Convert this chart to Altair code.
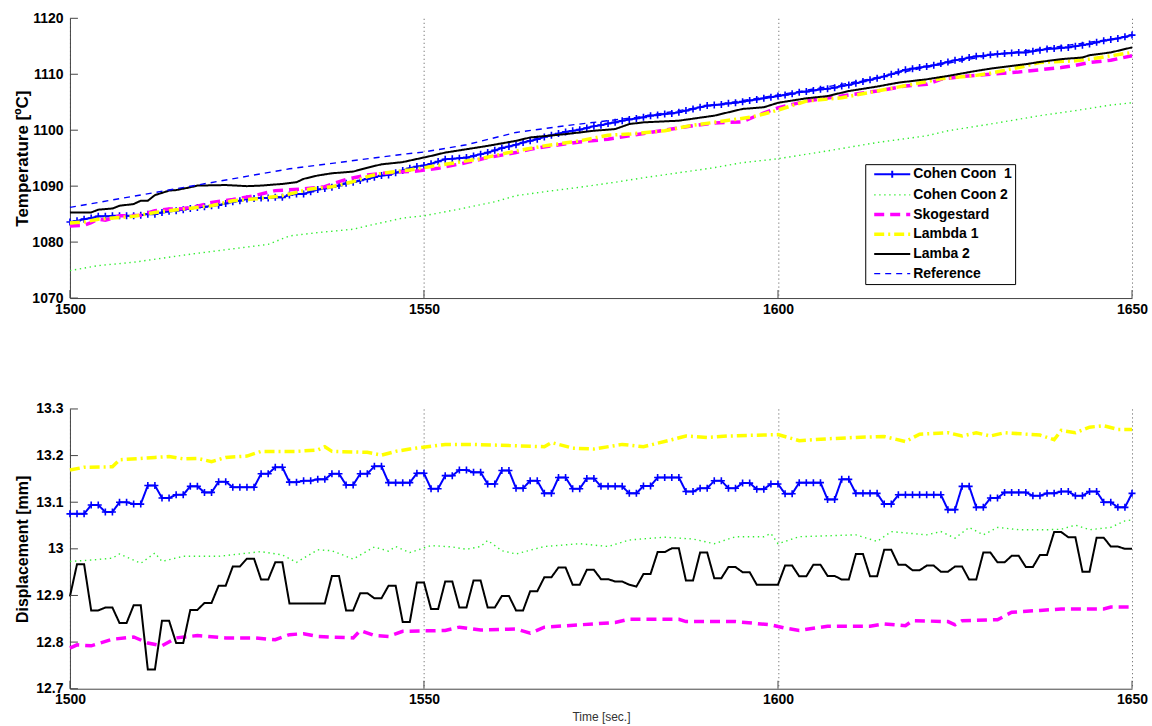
import json
import altair as alt
import pandas as pd

FONT = "Liberation Sans"

# ---------------- series / style definitions ----------------
SERIES = ["Cohen Coon \u00a01", "Cohen Coon 2", "Skogestard", "Lambda 1", "Lamba 2", "Reference"]
COLORS = ["#0000ff", "#33ee33", "#ff00ff", "#ffff00", "#000000", "#0000ff"]
DASHES = [[1, 0], [1.4, 3.6], [10, 6], [10, 4, 2, 4], [1, 0], [6, 5]]
WIDTHS = [2.0, 1.4, 3.5, 3.5, 2.0, 1.4]

X_TICKS = [1500, 1550, 1600, 1650]
TEMP_TICKS = [1070, 1080, 1090, 1100, 1110, 1120]
DISP_TICKS = [12.7, 12.8, 12.9, 13.0, 13.1, 13.2, 13.3]

TIME_1S = list(range(1500, 1651))

# ---------------- Temperature panel ----------------
TEMP_CC1 = [
    1083.6, 1083.8, 1084.1, 1084.3, 1084.6, 1084.6, 1084.7, 1084.7, 1084.7, 1084.7,
    1084.8, 1085.0, 1085.0, 1085.3, 1085.5, 1085.6, 1085.8, 1086.0, 1086.2, 1086.3,
    1086.5, 1086.6, 1086.9, 1087.2, 1087.4, 1087.7, 1087.8, 1087.9, 1087.9, 1088.0,
    1088.0, 1088.4, 1088.6, 1088.6, 1089.0, 1089.4, 1089.6, 1089.8, 1090.1, 1090.5,
    1090.7, 1091.0, 1091.3, 1091.6, 1091.9, 1092.0, 1092.4, 1092.8, 1093.2, 1093.5,
    1093.7, 1094.0, 1094.4, 1094.8, 1094.9, 1095.0, 1095.1, 1095.4, 1095.7, 1096.0,
    1096.4, 1096.8, 1097.1, 1097.4, 1097.8, 1098.1, 1098.4, 1098.8, 1099.1, 1099.4,
    1099.7, 1099.9, 1100.1, 1100.4, 1100.7, 1100.9, 1101.2, 1101.4, 1101.7, 1101.9,
    1102.1, 1102.3, 1102.6, 1102.7, 1102.9, 1103.0, 1103.2, 1103.5, 1103.8, 1104.1,
    1104.4, 1104.5, 1104.6, 1104.8, 1104.9, 1105.1, 1105.3, 1105.5, 1105.7, 1105.9,
    1106.1, 1106.3, 1106.5, 1106.8, 1106.9, 1107.1, 1107.3, 1107.4, 1107.6, 1107.9,
    1108.1, 1108.4, 1108.7, 1109.0, 1109.3, 1109.6, 1110.0, 1110.4, 1110.8, 1111.0,
    1111.2, 1111.4, 1111.6, 1111.9, 1112.2, 1112.5, 1112.7, 1113.0, 1113.2, 1113.3,
    1113.5, 1113.6, 1113.7, 1113.8, 1113.9, 1113.9, 1114.1, 1114.3, 1114.5, 1114.6,
    1114.7, 1114.8, 1115.0, 1115.2, 1115.4, 1115.7, 1116.0, 1116.2, 1116.4, 1116.7,
    1117.0,
]

TEMP_CC2_T = [1500, 1504, 1509, 1514, 1518, 1523, 1528, 1531, 1535, 1540, 1542, 1547,
              1550, 1555, 1560, 1563, 1567, 1572, 1577, 1581, 1586, 1591, 1595, 1600,
              1607, 1614, 1621, 1624, 1630, 1637, 1642, 1647, 1650]
TEMP_CC2 = [1074.9, 1075.8, 1076.4, 1077.3, 1078.0, 1078.8, 1079.6, 1081.1, 1081.7, 1082.3,
            1082.9, 1084.3, 1084.7, 1085.9, 1087.2, 1088.3, 1089.0, 1089.8, 1090.7, 1091.5,
            1092.4, 1093.3, 1094.2, 1094.9, 1096.3, 1097.8, 1099.0, 1099.9, 1101.1, 1102.6,
            1103.5, 1104.5, 1104.9]

TEMP_SKOG_T = [1500, 1502, 1503, 1504, 1505, 1507, 1510, 1511, 1512, 1514, 1516, 1518,
               1520, 1523, 1526, 1528, 1529, 1533, 1536, 1537, 1539, 1542, 1545, 1549,
               1552, 1556, 1559, 1563, 1565, 1568, 1572, 1576, 1579, 1582, 1585, 1588,
               1591, 1595, 1597, 1600, 1604, 1609, 1614, 1618, 1621, 1623, 1626, 1630,
               1634, 1637, 1640, 1642, 1644, 1647, 1650]
TEMP_SKOG = [1082.9, 1083.0, 1083.5, 1084.1, 1083.9, 1084.7, 1084.8, 1085.2, 1085.6, 1085.9,
             1086.0, 1086.4, 1087.1, 1087.6, 1088.3, 1088.9, 1089.2, 1089.5, 1089.9, 1090.4,
             1091.2, 1092.0, 1092.4, 1092.7, 1093.2, 1094.2, 1095.1, 1096.0, 1096.6, 1097.2,
             1097.9, 1098.4, 1099.0, 1099.6, 1100.2, 1100.8, 1101.3, 1101.5, 1102.6, 1104.0,
             1105.2, 1106.1, 1107.0, 1107.9, 1108.2, 1109.1, 1109.6, 1110.0, 1110.4, 1110.8,
             1111.2, 1111.6, 1112.1, 1112.5, 1113.3]

TEMP_LAM1_T = [1500, 1502, 1504, 1509, 1512, 1516, 1520, 1523, 1527, 1530, 1534, 1537,
               1540, 1542, 1544, 1548, 1553, 1558, 1563, 1567, 1572, 1576, 1579, 1584,
               1588, 1591, 1596, 1598, 1600, 1604, 1609, 1614, 1619, 1623, 1628, 1630,
               1634, 1637, 1642, 1644, 1647, 1650]
TEMP_LAM1 = [1083.4, 1083.6, 1084.1, 1084.6, 1085.3, 1085.9, 1086.5, 1087.4, 1087.8, 1088.3,
             1089.5, 1089.9, 1090.8, 1091.7, 1092.3, 1092.9, 1093.9, 1094.9, 1096.3, 1097.2,
             1098.1, 1099.1, 1099.3, 1099.9, 1100.9, 1101.4, 1102.3, 1102.9, 1103.6, 1105.2,
             1105.8, 1107.0, 1108.2, 1109.2, 1109.8, 1110.2, 1111.2, 1112.1, 1112.4, 1112.7,
             1113.3, 1113.9]

TEMP_LAM2_T = [1500, 1503, 1504, 1506, 1507, 1509, 1510, 1511, 1512, 1514, 1515, 1517,
               1518, 1522, 1525, 1527, 1530, 1532, 1533, 1535, 1537, 1540, 1542, 1544,
               1547, 1551, 1553, 1556, 1559, 1563, 1565, 1570, 1574, 1577, 1579, 1581,
               1586, 1591, 1593, 1595, 1598, 1600, 1604, 1607, 1610, 1614, 1617, 1621,
               1624, 1628, 1630, 1635, 1637, 1640, 1643, 1644, 1647, 1650]
TEMP_LAM2 = [1085.3, 1085.3, 1085.8, 1086.0, 1086.5, 1086.8, 1087.4, 1087.4, 1088.4, 1089.2,
             1089.3, 1089.8, 1090.1, 1090.2, 1090.0, 1090.1, 1090.4, 1090.7, 1091.3, 1091.9,
             1092.3, 1092.6, 1093.3, 1093.9, 1094.3, 1095.4, 1096.0, 1096.6, 1097.2, 1098.1,
             1098.7, 1099.3, 1099.9, 1100.2, 1101.1, 1101.4, 1101.7, 1102.6, 1103.2, 1103.8,
             1104.1, 1104.9, 1105.7, 1106.1, 1107.0, 1107.8, 1108.5, 1109.1, 1109.7, 1110.6,
             1111.0, 1111.8, 1112.2, 1112.7, 1113.0, 1113.4, 1113.9, 1114.8]

TEMP_REF_T = [1500, 1518, 1531, 1547, 1550, 1556, 1563, 1570, 1580, 1590, 1600, 1610,
              1620, 1630, 1640, 1650]
TEMP_REF = [1086.2, 1090.2, 1093.1, 1095.7, 1096.1, 1097.4, 1099.6, 1100.8, 1102.3, 1104.3,
            1106.3, 1108.4, 1111.0, 1113.4, 1115.0, 1116.8]

# ---------------- Displacement panel ----------------
DISP_CC1 = [
    13.075, 13.075, 13.075, 13.094, 13.094, 13.079, 13.079, 13.100, 13.100, 13.096,
    13.096, 13.136, 13.136, 13.109, 13.109, 13.116, 13.116, 13.134, 13.134, 13.121,
    13.121, 13.144, 13.144, 13.132, 13.132, 13.132, 13.132, 13.161, 13.161, 13.175,
    13.175, 13.143, 13.143, 13.146, 13.146, 13.149, 13.149, 13.161, 13.161, 13.137,
    13.137, 13.161, 13.161, 13.177, 13.177, 13.142, 13.142, 13.142, 13.142, 13.162,
    13.162, 13.129, 13.129, 13.157, 13.157, 13.169, 13.169, 13.164, 13.164, 13.139,
    13.139, 13.168, 13.168, 13.130, 13.130, 13.146, 13.146, 13.119, 13.119, 13.153,
    13.153, 13.129, 13.129, 13.151, 13.151, 13.134, 13.134, 13.134, 13.134, 13.119,
    13.119, 13.135, 13.135, 13.153, 13.153, 13.153, 13.153, 13.123, 13.123, 13.130,
    13.130, 13.146, 13.146, 13.130, 13.130, 13.141, 13.141, 13.128, 13.128, 13.139,
    13.139, 13.118, 13.118, 13.142, 13.142, 13.142, 13.142, 13.106, 13.106, 13.149,
    13.149, 13.119, 13.119, 13.119, 13.119, 13.096, 13.096, 13.116, 13.116, 13.116,
    13.116, 13.116, 13.116, 13.116, 13.084, 13.084, 13.134, 13.134, 13.089, 13.089,
    13.109, 13.109, 13.121, 13.121, 13.121, 13.121, 13.114, 13.114, 13.119, 13.119,
    13.123, 13.123, 13.114, 13.114, 13.123, 13.123, 13.100, 13.100, 13.089, 13.089,
    13.119,
]

DISP_LAM2 = [
    12.898, 12.967, 12.967, 12.868, 12.868, 12.874, 12.874, 12.841, 12.841, 12.879,
    12.879, 12.741, 12.741, 12.846, 12.846, 12.798, 12.798, 12.869, 12.869, 12.884,
    12.884, 12.921, 12.921, 12.962, 12.962, 12.979, 12.979, 12.934, 12.934, 12.971,
    12.971, 12.883, 12.883, 12.883, 12.883, 12.883, 12.883, 12.942, 12.942, 12.868,
    12.868, 12.905, 12.905, 12.894, 12.894, 12.921, 12.921, 12.843, 12.843, 12.928,
    12.928, 12.871, 12.871, 12.930, 12.930, 12.874, 12.874, 12.932, 12.932, 12.874,
    12.874, 12.899, 12.899, 12.868, 12.868, 12.909, 12.909, 12.939, 12.939, 12.960,
    12.960, 12.923, 12.923, 12.955, 12.955, 12.935, 12.935, 12.930, 12.930, 12.923,
    12.919, 12.946, 12.946, 12.993, 12.993, 13.001, 13.001, 12.932, 12.932, 12.992,
    12.992, 12.937, 12.937, 12.961, 12.961, 12.950, 12.950, 12.923, 12.923, 12.923,
    12.923, 12.964, 12.964, 12.941, 12.941, 12.966, 12.966, 12.942, 12.942, 12.934,
    12.934, 12.989, 12.989, 12.941, 12.941, 12.998, 12.998, 12.966, 12.966, 12.954,
    12.954, 12.964, 12.964, 12.951, 12.951, 12.962, 12.962, 12.934, 12.934, 12.992,
    12.992, 12.971, 12.971, 12.985, 12.985, 12.961, 12.961, 12.987, 12.987, 13.036,
    13.036, 13.025, 13.025, 12.951, 12.951, 13.024, 13.024, 13.005, 13.005, 13.000,
    13.000,
]

DISP_CC2_T = [1500, 1503, 1506, 1507, 1510, 1512, 1513, 1516, 1521, 1527, 1530, 1532,
              1535, 1537, 1540, 1543, 1545, 1546, 1548, 1551, 1554, 1556, 1558, 1559,
              1561, 1563, 1567, 1572, 1576, 1579, 1584, 1588, 1591, 1594, 1598, 1599,
              1600, 1603, 1611, 1614, 1616, 1621, 1623, 1625, 1627, 1629, 1631, 1634,
              1638, 1640, 1642, 1644, 1647, 1649, 1650]
DISP_CC2 = [12.973, 12.976, 12.980, 12.989, 12.969, 12.991, 12.973, 12.984, 12.984, 12.994,
            12.987, 12.971, 12.998, 12.996, 12.978, 13.004, 12.995, 13.005, 12.992, 13.007,
            13.004, 12.999, 13.005, 13.018, 12.996, 12.989, 13.005, 13.011, 13.005, 13.019,
            13.025, 13.021, 13.011, 13.026, 13.026, 13.033, 13.011, 13.026, 13.030, 13.016,
            13.037, 13.030, 13.037, 13.023, 13.046, 13.030, 13.046, 13.041, 13.041, 13.042,
            13.051, 13.041, 13.046, 13.060, 13.062]

DISP_SKOG_T = [1500, 1501, 1503, 1506, 1509, 1511, 1513, 1515, 1518, 1522, 1526, 1529,
               1531, 1533, 1535, 1540, 1541, 1543, 1545, 1547, 1553, 1555, 1558, 1563,
               1565, 1567, 1572, 1577, 1579, 1586, 1587, 1594, 1599, 1601, 1603, 1607,
               1613, 1615, 1618, 1619, 1624, 1625, 1626, 1631, 1633, 1637, 1640, 1646,
               1647, 1650]
DISP_SKOG = [12.787, 12.794, 12.792, 12.806, 12.811, 12.798, 12.792, 12.809, 12.814, 12.809,
             12.809, 12.805, 12.816, 12.818, 12.812, 12.809, 12.825, 12.814, 12.812, 12.823,
             12.825, 12.832, 12.826, 12.828, 12.819, 12.832, 12.837, 12.842, 12.849, 12.849,
             12.844, 12.844, 12.837, 12.830, 12.825, 12.834, 12.834, 12.839, 12.835, 12.846,
             12.844, 12.837, 12.846, 12.848, 12.864, 12.868, 12.871, 12.871, 12.875, 12.875]

DISP_LAM1_T = [1500, 1502, 1506, 1507, 1512, 1514, 1516, 1518, 1520, 1522, 1525, 1527,
               1532, 1535, 1536, 1537, 1542, 1544, 1546, 1548, 1553, 1557, 1567, 1568,
               1571, 1574, 1578, 1581, 1585, 1587, 1590, 1593, 1600, 1603, 1607, 1611,
               1615, 1618, 1620, 1624, 1626, 1628, 1630, 1632, 1637, 1639, 1640, 1642,
               1644, 1646, 1648, 1650]
DISP_LAM1 = [13.169, 13.175, 13.176, 13.191, 13.196, 13.198, 13.193, 13.194, 13.187, 13.196,
             13.199, 13.209, 13.209, 13.212, 13.219, 13.209, 13.207, 13.201, 13.209, 13.214,
             13.224, 13.224, 13.219, 13.228, 13.216, 13.214, 13.224, 13.219, 13.234, 13.242,
             13.239, 13.242, 13.245, 13.232, 13.236, 13.239, 13.241, 13.230, 13.246, 13.249,
             13.242, 13.249, 13.242, 13.249, 13.244, 13.234, 13.254, 13.249, 13.261, 13.264,
             13.256, 13.256]

assert len(TEMP_CC1) == 151 and len(DISP_CC1) == 151 and len(DISP_LAM2) == 151
for a, b in [(TEMP_CC2_T, TEMP_CC2), (TEMP_SKOG_T, TEMP_SKOG), (TEMP_LAM1_T, TEMP_LAM1),
             (TEMP_LAM2_T, TEMP_LAM2), (TEMP_REF_T, TEMP_REF), (DISP_CC2_T, DISP_CC2),
             (DISP_SKOG_T, DISP_SKOG), (DISP_LAM1_T, DISP_LAM1)]:
    assert len(a) == len(b), (len(a), len(b))


def frame(idx, ts, vs):
    return pd.DataFrame({"t": ts, "v": vs, "series": SERIES[idx], "w": WIDTHS[idx]})


top_df = pd.concat([
    frame(0, TIME_1S, TEMP_CC1), frame(1, TEMP_CC2_T, TEMP_CC2), frame(2, TEMP_SKOG_T, TEMP_SKOG),
    frame(3, TEMP_LAM1_T, TEMP_LAM1), frame(4, TEMP_LAM2_T, TEMP_LAM2), frame(5, TEMP_REF_T, TEMP_REF),
], ignore_index=True)
bot_df = pd.concat([
    frame(0, TIME_1S, DISP_CC1), frame(1, DISP_CC2_T, DISP_CC2), frame(2, DISP_SKOG_T, DISP_SKOG),
    frame(3, DISP_LAM1_T, DISP_LAM1), frame(4, TIME_1S, DISP_LAM2),
], ignore_index=True)
top_mark_df = frame(0, TIME_1S, TEMP_CC1)
bot_mark_df = frame(0, TIME_1S, DISP_CC1)


def by_series(values, default):
    expr = json.dumps(default, ensure_ascii=False)
    for s, v in zip(reversed(SERIES), reversed(values)):
        expr = f"datum.value === {json.dumps(s, ensure_ascii=False)} ? {json.dumps(v, ensure_ascii=False)} : ({expr})"
    return expr


LINE_PATH = "M-1.85,0L1.85,0"
PLUS_LINE_PATH = "M-1.85,0L1.85,0M0,-0.36L0,0.36"
legend_types = [PLUS_LINE_PATH] + [LINE_PATH] * 5

PLOT_W, PLOT_H = 1063, 280
XSCALE = alt.Scale(domain=[1500, 1650], nice=False, zero=False)


def make_legend():
    return alt.Legend(
        title=None, orient="none", legendX=796, legendY=146,
        symbolType=alt.ExprRef(by_series(legend_types, LINE_PATH)),
        symbolStrokeWidth=alt.ExprRef(by_series(WIDTHS, 2)),
        symbolSize=380, symbolOffset=17, labelOffset=14,
        labelFont=FONT, labelFontSize=14, labelFontWeight="bold", labelColor="black",
        strokeColor="black", fillColor="white", padding=3, rowPadding=5.7,
        labelLimit=300,
    )


def panel(lines_df, mark_df, yticks, ydomain, ytitle, ytitle_size, ylabel_fmt, show_legend, xtitle):
    yscale = alt.Scale(domain=ydomain, nice=False, zero=False)
    x_axis = alt.Axis(
        values=X_TICKS, format="d", title=xtitle, grid=True, gridDash=[1, 3], gridColor="#555",
        gridWidth=1, tickSize=0, labelPadding=4, labelFlush=False, labelFont=FONT,
        labelFontSize=14, labelFontWeight="bold", labelColor="black", domainColor="#444",
        titleFont=FONT, titleFontSize=12, titleFontWeight="normal", titleColor="#333",
        titlePadding=5,
    )
    y_axis = alt.Axis(
        values=yticks, format=ylabel_fmt, title=ytitle, grid=False, tickSize=0, labelPadding=7,
        labelFlush=False, labelFont=FONT, labelFontSize=14, labelFontWeight="bold",
        labelColor="black", domainColor="#444", titleFont=FONT, titleFontSize=ytitle_size,
        titleFontWeight="bold", titleColor="black", titleX=-47, titleY=PLOT_H / 2,
        titleAngle=270, titleAlign="center", titleBaseline="middle",
    )
    X = alt.X("t:Q", scale=XSCALE, axis=x_axis)
    Y = alt.Y("v:Q", scale=yscale, axis=y_axis)
    leg = make_legend() if show_legend else None
    color = alt.Color("series:N", scale=alt.Scale(domain=SERIES, range=COLORS), legend=leg)
    dash = alt.StrokeDash("series:N", scale=alt.Scale(domain=SERIES, range=DASHES), legend=leg)

    markers = alt.Chart(mark_df).mark_point(
        shape="M-1,0L1,0M0,-1L0,1", filled=False, size=49, strokeWidth=1.6,
        color="#0000ff", opacity=1,
    ).encode(x=X, y=Y)
    lines = alt.Chart(lines_df).mark_line().encode(
        x=X, y=Y,
        color=color,
        strokeDash=dash,
        strokeWidth=alt.StrokeWidth("w:Q", scale=None, legend=None),
    )
    ytick_rules = alt.Chart(pd.DataFrame({"v": yticks})).mark_rule(
        color="#444", strokeWidth=1
    ).encode(y=Y, x=alt.value(0), x2=alt.value(8))
    xtick_rules = alt.Chart(pd.DataFrame({"t": X_TICKS})).mark_rule(
        color="#444", strokeWidth=1
    ).encode(x=X, y=alt.value(PLOT_H), y2=alt.value(PLOT_H - 8))
    return alt.layer(markers, lines, ytick_rules, xtick_rules).properties(
        width=PLOT_W, height=PLOT_H
    )


top = panel(top_df, top_mark_df, TEMP_TICKS, [1070, 1120], "Temperature [ºC]", 17, "d", True, None)
bottom = panel(bot_df, bot_mark_df, DISP_TICKS, [12.7, 13.3], "Displacement [mm]", 16, "~g", False,
               "Time [sec.]")

chart = alt.vconcat(top, bottom, spacing=86).resolve_scale(
    color="independent", strokeDash="independent"
).properties(
    padding={"left": 14, "top": 11, "right": 4, "bottom": 2},
    background="white",
).configure(font=FONT, view=alt.ViewConfig(stroke=None))

chart.save("out.html", embed_options={"renderer": "svg", "actions": False})
